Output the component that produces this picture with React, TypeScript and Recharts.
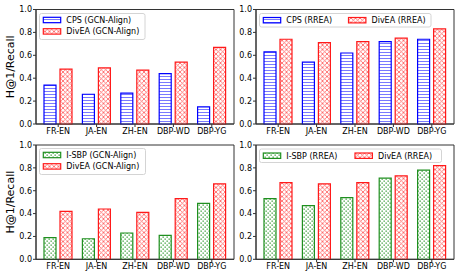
import { BarChart, Bar, XAxis, YAxis, CartesianGrid } from 'recharts'

const categories = ["FR-EN", "JA-EN", "ZH-EN", "DBP-WD", "DBP-YG"]
const yTicks = [0, 0.2, 0.4, 0.6, 0.8, 1.0]

const cpsGcn = [0.34, 0.26, 0.27, 0.44, 0.15]
const divGcnTop = [0.48, 0.49, 0.47, 0.54, 0.67]
const cpsRrea = [0.63, 0.54, 0.62, 0.72, 0.74]
const divRreaTop = [0.74, 0.71, 0.72, 0.75, 0.83]
const isbpGcn = [0.19, 0.18, 0.23, 0.21, 0.49]
const divGcnBottom = [0.42, 0.44, 0.41, 0.53, 0.66]
const isbpRrea = [0.53, 0.47, 0.54, 0.71, 0.78]
const divRreaBottom = [0.67, 0.66, 0.67, 0.73, 0.82]

const FONT = "DejaVu Sans, sans-serif"
const BLUE = "#0000ff"
const RED = "#ff1a1a"
const GREEN = "#1f8f1f"

// hatch patterns, one set per chart so ids stay unique
const Patterns = ({ id }: { id: string }) => (
  <defs>
    <pattern id={`hl-${id}`} width="4" height="3" patternUnits="userSpaceOnUse">
      <rect width="4" height="3" fill="#fff" />
      <line x1="0" y1="1.5" x2="4" y2="1.5" stroke="#6b6bff" strokeWidth="0.9" />
    </pattern>
    <pattern id={`xx-${id}`} width="4.5" height="4.5" patternUnits="userSpaceOnUse">
      <rect width="4.5" height="4.5" fill="#fff" />
      <line x1="0" y1="0" x2="4.5" y2="4.5" stroke="#ff5a5a" strokeWidth="0.8" />
      <line x1="4.5" y1="0" x2="0" y2="4.5" stroke="#ff5a5a" strokeWidth="0.8" />
    </pattern>
    <pattern id={`dt-${id}`} width="4" height="4" patternUnits="userSpaceOnUse">
      <rect width="4" height="4" fill="#fff" />
      <rect x="0.5" y="0.5" width="1.3" height="1.3" fill="#3a9e3a" />
      <rect x="2.5" y="2.5" width="1.3" height="1.3" fill="#3a9e3a" />
    </pattern>
  </defs>
)

type Item = { label: string; kind: 'hl' | 'xx' | 'dt'; color: string; px: number; py: number }

// legend drawn as its own small svg overlay, positions in page pixels
function LegendBox({ id, x, y, w, h, items }: { id: string; x: number; y: number; w: number; h: number; items: Item[] }) {
  return (
    <svg width={474} height={277} style={{ position: 'absolute', left: 0, top: 0, pointerEvents: 'none' }}>
      <Patterns id={id} />
      <rect x={x} y={y} width={w} height={h} rx={2} fill="rgba(255,255,255,0.85)" stroke="#d4d4d4" strokeWidth={1} />
      {items.map((it, i) => (
        <g key={i}>
          <rect x={it.px} y={it.py - 2.7} width={17.4} height={5.4} fill={`url(#${it.kind}-${id})`} stroke={it.color} strokeWidth={1.2} />
          <text x={it.px + 23} y={it.py + 2.9} fontSize={8} fontFamily={FONT} fill="#000">{it.label}</text>
        </g>
      ))}
    </svg>
  )
}

type PanelProps = {
  id: string; left: number; top: number; width: number; height: number
  a: number[]; b: number[]; kindA: 'hl' | 'dt'; colorA: string
  marginTop: number; marginRight: number; yWidth: number; xHeight: number; yLabel?: boolean
}

function Panel(p: PanelProps) {
  const data = categories.map((c, i) => ({ cat: c, a: p.a[i], b: p.b[i] }))
  return (
    <div style={{ position: 'absolute', left: p.left, top: p.top }}>
      <BarChart width={p.width} height={p.height} data={data} barGap={4}
        margin={{ top: p.marginTop, right: p.marginRight, bottom: 0, left: 0 }}>
        <Patterns id={p.id} />
        <CartesianGrid stroke="#333" strokeWidth={1}
          horizontalCoordinatesGenerator={({ offset }: any) => [offset.top, offset.top + offset.height]}
          verticalCoordinatesGenerator={({ offset }: any) => [offset.left, offset.left + offset.width]} />
        <XAxis dataKey="cat" interval={0} padding={{ left: 3, right: 3 }} height={p.xHeight}
          tickSize={3} tickMargin={1} stroke="#333"
          tick={{ fontSize: 8, fill: '#000', fontFamily: FONT }} />
        <YAxis domain={[0, 1]} ticks={yTicks} width={p.yWidth} tickSize={3} tickMargin={1}
          stroke="#333" tickFormatter={(v: number) => v.toFixed(1)}
          tick={{ fontSize: 8, fill: '#000', fontFamily: FONT }}
          label={p.yLabel ? { value: 'H@1/Recall', angle: -90, position: 'insideLeft', offset: 10,
            style: { textAnchor: 'middle', fontSize: 11, fontFamily: FONT, fill: '#000' } } : undefined} />
        <Bar dataKey="a" barSize={12} fill={`url(#${p.kindA}-${p.id})`} stroke={p.colorA} strokeWidth={1.2} isAnimationActive={false} />
        <Bar dataKey="b" barSize={12} fill={`url(#xx-${p.id})`} stroke={RED} strokeWidth={1.2} isAnimationActive={false} />
      </BarChart>
    </div>
  )
}

export default function App() {
  return (
    <div style={{ position: 'absolute', left: 0, top: 0, width: 474, height: 277, background: '#fff', overflow: 'hidden' }}>
      <Panel id="tl" left={0} top={0} width={237} height={138} a={cpsGcn} b={divGcnTop} kindA="hl" colorA={BLUE}
        marginTop={9.5} marginRight={3} yWidth={36} xHeight={14} yLabel />
      <Panel id="tr" left={237} top={0} width={237} height={138} a={cpsRrea} b={divRreaTop} kindA="hl" colorA={BLUE}
        marginTop={9.5} marginRight={20} yWidth={19} xHeight={14} />
      <Panel id="bl" left={0} top={138} width={237} height={139} a={isbpGcn} b={divGcnBottom} kindA="dt" colorA={GREEN}
        marginTop={7} marginRight={3} yWidth={36} xHeight={17.7} yLabel />
      <Panel id="br" left={237} top={138} width={237} height={139} a={isbpRrea} b={divRreaBottom} kindA="dt" colorA={GREEN}
        marginTop={7} marginRight={20} yWidth={19} xHeight={17.7} />
      <LegendBox id="lg-tl" x={39.5} y={13.5} w={105.5} h={26} items={[
        { label: 'CPS (GCN-Align)', kind: 'hl', color: BLUE, px: 43.3, py: 20 },
        { label: 'DivEA (GCN-Align)', kind: 'xx', color: RED, px: 43.3, py: 31.4 }]} />
      <LegendBox id="lg-tr" x={259.5} y={13.5} w={171.5} h={13.5} items={[
        { label: 'CPS (RREA)', kind: 'hl', color: BLUE, px: 263.3, py: 20.2 },
        { label: 'DivEA (RREA)', kind: 'xx', color: RED, px: 348.5, py: 20.2 }]} />
      <LegendBox id="lg-bl" x={39.5} y={148.5} w={106} h={26} items={[
        { label: 'I-SBP (GCN-Align)', kind: 'dt', color: GREEN, px: 43.3, py: 155 },
        { label: 'DivEA (GCN-Align)', kind: 'xx', color: RED, px: 43.3, py: 166.4 }]} />
      <LegendBox id="lg-br" x={259.5} y={149} w={182} h={13.5} items={[
        { label: 'I-SBP (RREA)', kind: 'dt', color: GREEN, px: 263.3, py: 155.7 },
        { label: 'DivEA (RREA)', kind: 'xx', color: RED, px: 355, py: 155.7 }]} />
    </div>
  )
}
